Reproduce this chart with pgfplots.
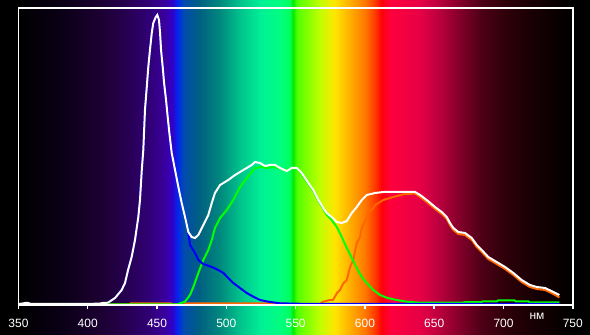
\documentclass[border=0pt]{standalone}
\usepackage{pgfplots}
\pgfplotsset{compat=1.18}
\usepackage{fontspec}
\setmainfont{Liberation Sans}
\definecolor{sp350}{RGB}{0,0,0}
\definecolor{sp380}{RGB}{10,0,22}
\definecolor{sp410}{RGB}{28,0,50}
\definecolor{sp430}{RGB}{40,0,85}
\definecolor{sp445}{RGB}{48,0,120}
\definecolor{sp455}{RGB}{58,0,155}
\definecolor{sp461}{RGB}{50,0,200}
\definecolor{sp465}{RGB}{0,40,240}
\definecolor{sp469}{RGB}{0,75,175}
\definecolor{sp480}{RGB}{0,95,130}
\definecolor{sp495}{RGB}{0,135,125}
\definecolor{sp510}{RGB}{0,195,140}
\definecolor{sp525}{RGB}{0,240,150}
\definecolor{sp540}{RGB}{0,255,125}
\definecolor{sp546}{RGB}{0,255,90}
\definecolor{sp548}{RGB}{0,235,0}
\definecolor{sp551}{RGB}{80,255,0}
\definecolor{sp567}{RGB}{190,255,0}
\definecolor{sp578}{RGB}{255,230,0}
\definecolor{sp590}{RGB}{255,170,0}
\definecolor{sp600}{RGB}{255,120,0}
\definecolor{sp608}{RGB}{255,50,0}
\definecolor{sp612}{RGB}{255,0,10}
\definecolor{sp618}{RGB}{255,0,60}
\definecolor{sp640}{RGB}{230,0,70}
\definecolor{sp655}{RGB}{180,0,60}
\definecolor{sp670}{RGB}{125,0,40}
\definecolor{sp685}{RGB}{75,0,22}
\definecolor{sp700}{RGB}{48,0,10}
\definecolor{sp720}{RGB}{25,0,4}
\definecolor{sp740}{RGB}{8,0,0}
\definecolor{sp750}{RGB}{0,0,0}
\definecolor{ledorange}{RGB}{255,102,0}
\pgfdeclarehorizontalshading{spectrum}{100bp}{
color(0bp)=(sp350);
color(25bp)=(sp350);
color(28.75bp)=(sp380);
color(32.5bp)=(sp410);
color(35bp)=(sp430);
color(36.875bp)=(sp445);
color(38.125bp)=(sp455);
color(38.875bp)=(sp461);
color(39.375bp)=(sp465);
color(39.875bp)=(sp469);
color(41.25bp)=(sp480);
color(43.125bp)=(sp495);
color(45bp)=(sp510);
color(46.875bp)=(sp525);
color(48.75bp)=(sp540);
color(49.5bp)=(sp546);
color(49.75bp)=(sp548);
color(50.125bp)=(sp551);
color(52.125bp)=(sp567);
color(53.5bp)=(sp578);
color(55bp)=(sp590);
color(56.25bp)=(sp600);
color(57.25bp)=(sp608);
color(57.75bp)=(sp612);
color(58.5bp)=(sp618);
color(61.25bp)=(sp640);
color(63.125bp)=(sp655);
color(65bp)=(sp670);
color(66.875bp)=(sp685);
color(68.75bp)=(sp700);
color(71.25bp)=(sp720);
color(73.75bp)=(sp740);
color(75bp)=(sp750);
color(100bp)=(sp750)}
\begin{document}
\begin{tikzpicture}
\begin{axis}[
  at={(18.4pt,30pt)}, anchor=south west,
  scale only axis, width=554.4pt, height=297pt,
  xmin=350, xmax=750, ymin=0, ymax=297,
  clip=false, axis on top,
  axis line style={white, line width=1.5pt},
  xtick={350,400,...,750}, ytick=\empty,
  xtick pos=bottom,
  tick align=outside, major tick length=4.5pt,
  tick style={white, line width=1.5pt},
  /pgf/number format/assume math mode=true,
  /pgf/number format/1000 sep={},
  xticklabel style={text=white, font=\fontsize{12}{14}\selectfont, yshift=-6pt},
]
\fill[black] (axis cs:336.7,-30) rectangle (axis cs:762.4,305);
\fill[shading=spectrum] (axis cs:350,-30) rectangle (axis cs:750,305);

\addplot[ledorange, line width=2pt, mark=none] coordinates {
(415,0.5)(430,0.5)(431,1.7)(460,1.7)(461,0.5)(470,0.5)(471,1.5)(540,1.5)(541,0.5)(567,0.5)
(569.8,3.3)(574.8,5)(577,5)(579.7,11.7)(582,15)(584.4,21.7)(586.9,25)(589.3,38)(591.6,45)
(594.1,62)(596.5,68)(597.7,77)(601.3,87)(602.5,92)(606.1,97)(607.3,100)(613.3,105)(620.5,108)
(627.7,110.7)(636.2,111.5)(639.8,108)(644.6,103)(650.6,96)(655.4,91)(659.0,86)(661.4,80)
(663.8,75)(667.4,71)(672.2,70)(677.1,65)(680.7,58)(684.3,53)(689.0,46)(695.1,41)(701.1,36)
(707.1,30)(713.1,23)(719.1,18)(724.0,16)(730.0,15)(736.0,11)(740.3,7.5)};

\addplot[green, line width=2pt, mark=none] coordinates {
(414,0.7)(465,0.7)(466.6,1.7)(470.2,3.3)(473.8,10)(476.2,18)(479.8,32)(483.4,45)(487.0,55)
(489.5,65)(491.8,77)(495.5,87)(500.3,95)(505.0,105)(509.9,118)(514.7,127)(518.3,133)(520.7,137)
(525.5,138)(529.1,137)(533.9,138)(537.5,137)(542.4,135)(547.2,136)(550.8,136)(554.4,131)
(559.2,121)(562.8,114)(566.4,104)(570.0,96)(572.4,90)(576.0,85)(579.7,78)(583.3,68)(586.9,57)
(590.5,47)(594.1,37)(597.7,28)(601.3,22)(606.1,15)(610.9,10)(615.7,7.3)(622.9,5)(630.1,3.3)
(640,2.3)(670,2.3)(672,2.8)(684,2.8)(685,3.5)(695,3.5)(696,4.5)(708,4.5)(709,3.5)(718,3.5)
(719,2.5)(740.3,2.5)};

\addplot[blue, line width=2pt, mark=none] coordinates {
(414.6,2.3)(419.7,7)(424.5,15)(426.9,22)(429.1,35)(431.7,48)(434.1,65)(436.5,88)(437.7,105)
(439.0,135)(440.1,155)(441.3,195)(442.6,218)(443.7,238)(444.9,255)(446.2,272)(447.3,282)
(449.1,288)(450.2,290)(451.4,285)(452.2,272)(452.9,255)(454.1,238)(455.1,222)(456.5,205)
(457.7,188)(458.9,172)(460.6,152)(463.0,135)(465.4,118)(467.8,102)(470.2,88)
(472.6,72)(473.8,60)(477.4,52)(479.8,45)(483.4,41)(489.5,38)(494.2,35)(497.9,32)(501.4,27)
(505.0,22)(509.9,17)(514.7,12)(519.5,8.3)(524.3,5)(530.3,3.3)(538.7,1.7)(560,1)(740.3,1)};

\addplot[white, line width=2pt, mark=none] coordinates {
(350,1)(353,1.5)(355,2)(357,2)(359,1)(400,1)(409,1.5)(411,2)(414.6,2.3)(419.7,7)(424.5,15)
(426.9,22)(429.1,35)(431.7,48)(434.1,65)(436.5,88)(437.7,105)(439.0,135)(440.1,155)(441.3,195)
(442.6,218)(443.7,238)(444.9,255)(446.2,272)(447.3,282)(449.1,288)(450.2,290)(451.4,285)
(452.2,272)(452.9,255)(454.1,238)(455.1,222)(456.5,205)(457.7,188)(458.9,172)(460.6,152)
(463.0,135)(465.4,118)(467.8,102)(470.2,88)(472.6,73)(475.0,68)(477.4,67)(479.8,70)(483.4,80)
(487.0,90)(489.5,102)(491.8,112)(495.5,120)(501.4,125)(506.3,130)(509.9,133)(514.7,137)
(518.3,140)(520.7,143)(524.3,142)(527.9,139)(531.5,140)(535.1,140)(538.7,137)(543.6,134)
(547.2,137)(550.8,137)(554.4,132)(559.2,122)(562.8,115)(566.4,105)(570.0,97)(572.4,92)
(576.0,88)(579.7,83)(583.3,82)(586.9,84)(590.5,92)(594.1,98)(597.7,105)(601.3,110)(607.3,112)
(613.3,113)(620.5,113)(628.9,113)(636.2,113)(639.8,110)(644.6,105)(650.6,98)(655.4,93)
(659.0,88)(661.4,82)(663.8,77)(667.4,73)(672.2,72)(677.1,67)(680.7,60)(684.3,55)(689.0,48)
(695.1,43)(701.1,38)(707.1,32)(713.1,25)(719.1,20)(724.0,18)(730.0,17)(736.0,13)(740.3,10)};

\node[text=white, font=\fontsize{12}{14}\selectfont, anchor=base] at (axis cs:724.2,-15) {нм};
\end{axis}
\end{tikzpicture}
\end{document}
